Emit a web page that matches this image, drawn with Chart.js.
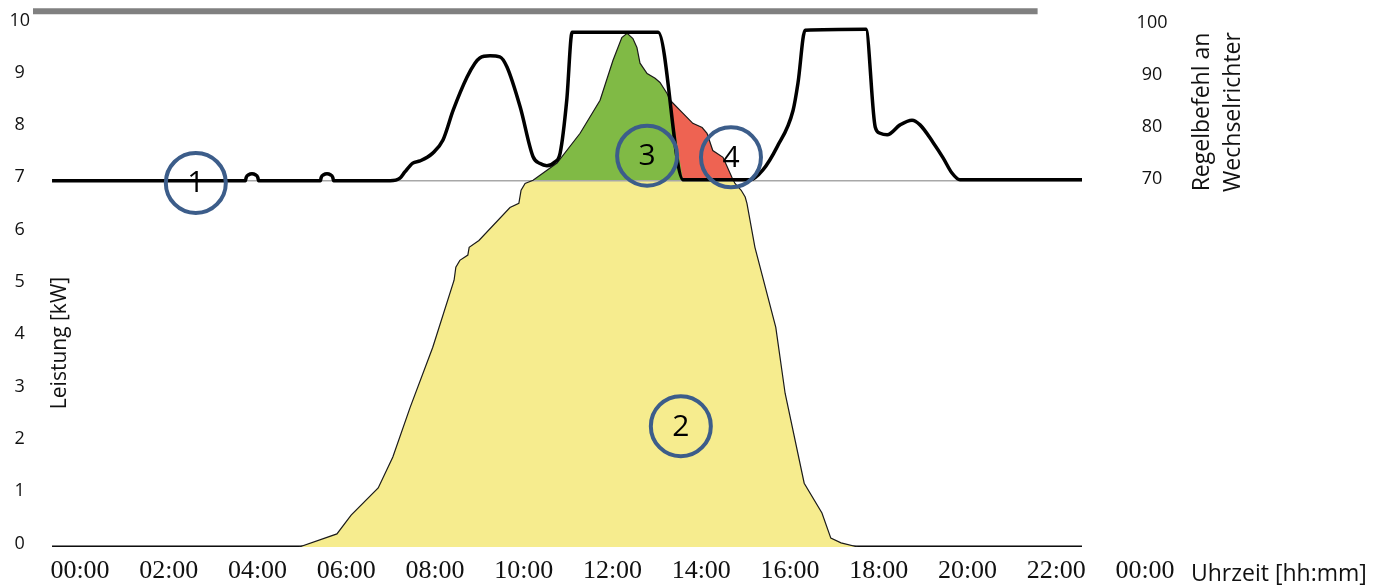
<!DOCTYPE html>
<html><head><meta charset="utf-8">
<script src="https://cdn.jsdelivr.net/npm/chart.js@4/dist/chart.umd.min.js"></script>
<style>html,body{margin:0;padding:0;background:#fff}canvas{display:block}</style>
</head><body>
<canvas id="c" width="1389" height="588"></canvas>
<script>
// ---- data ----
const hourTicks = [0,2,4,6,8,10,12,14,16,18,20,22,24];
const hourLabels = ['00:00','02:00','04:00','06:00','08:00','10:00','12:00','14:00','16:00','18:00','20:00','22:00','00:00'];
const kwTicks = [0,1,2,3,4,5,6,7,8,9,10];
const pctTicks = [70,80,90,100];

// PV power [kW]
const pvHours = [-0.63,4.94,5.79,6.11,6.72,7.05,7.44,7.95,8.43,8.47,8.56,8.74,8.77,8.99,9.69,9.89,9.94,10.03,10.21,10.75,11.27,11.72,12.01,12.21,12.33,12.46,12.55,12.62,12.78,12.96,13.07,13.23,13.30,13.59,13.81,14.02,14.13,14.26,14.49,14.69,14.76,14.90,14.99,15.03,15.21,15.68,15.89,16.32,16.72,16.92,17.15,17.53,22.58];
const pvKW    = [0,0,0.25,0.61,1.13,1.72,2.67,3.82,5.10,5.35,5.48,5.58,5.73,5.86,6.49,6.57,6.82,6.95,7.01,7.34,7.91,8.54,9.30,9.74,9.82,9.72,9.55,9.25,9.05,8.96,8.88,8.67,8.54,8.29,8.10,8.02,7.91,7.58,7.45,7.07,6.95,6.82,6.69,6.57,5.73,4.20,2.94,1.22,0.65,0.17,0.08,0,0];

// control command to inverter [%]
const cmdHours = [-0.63,3.726,3.746,3.801,3.876,3.951,4.006,4.026,5.416,5.436,5.491,5.566,5.641,5.696,5.716,6.99,7.21,7.32,7.50,7.66,7.95,8.18,8.41,8.72,8.90,9.01,9.24,9.46,9.62,9.92,10.21,10.37,10.52,10.70,10.82,10.97,11.09,13.03,13.59,15.10,15.39,15.71,16.07,16.18,16.34,17.71,17.92,18.03,18.19,18.48,18.75,18.93,19.22,19.45,19.65,19.83,22.58];
const cmdPct   = [70,70,70.68,71.17,71.35,71.17,70.68,70,70,70.68,71.17,71.35,71.17,70.68,70,70,70.5,71.7,73.4,73.8,75.3,77.8,83.5,89.8,92.5,93.5,93.9,93.7,91.8,84.1,74.6,73.3,72.9,73.6,75.3,85.5,98.4,98.4,70.2,70.2,72.1,76.5,83.5,88.7,98.8,99.0,80.3,79.1,78.8,80.7,81.6,80.7,77.4,74.4,71.5,70.2,70.2];

const limitKW = 7;                 // 70 % line
const spanHours = [-0.63, 22.58];  // extent of the base lines
const topLineHours = [-1.06, 21.58];
const topLineKW = 10.24;
const greenFromHour = 9.94;
const cutHour = 13.30;             // command starts dropping
const cutEdgeHour = 13.59;         // command reaches 70 %
const redToHour = 14.90;

const markerLabels = ['1','2','3','4'];
const markerHours  = [2.61, 13.54, 12.78, 14.67];
const markerKW     = [6.96, 2.31, 7.48, 7.45];

// ---- build datasets ----
const pv = pvHours.map((h,i)=>({x:h,y:pvKW[i]}));
const cmd = cmdHours.map((h,i)=>({x:h,y:cmdPct[i]}));
const green = pv.filter(p=>p.x>=greenFromHour && p.x<=cutHour).concat([{x:cutEdgeHour,y:limitKW}]);
const red = pv.filter(p=>p.x>=cutHour && p.x<=redToHour);
const limitLine = spanHours.map(h=>({x:h,y:limitKW}));
const baseLine = spanHours.map(h=>({x:h,y:0}));
const topLine = topLineHours.map(h=>({x:h,y:topLineKW}));

const NONE = 'rgba(0,0,0,0)';
const common = {pointRadius:0, pointHoverRadius:0, tension:0};

const annot = {
  id:'annot',
  afterDraw(chart){
    const ctx = chart.ctx, xs = chart.scales.x, ys = chart.scales.y;
    ctx.save();
    for(let i=0;i<markerLabels.length;i++){
      const cx = xs.getPixelForValue(markerHours[i]);
      const cy = ys.getPixelForValue(markerKW[i]);
      ctx.beginPath();
      ctx.arc(cx,cy,30,0,Math.PI*2);
      ctx.lineWidth = 4;
      ctx.strokeStyle = '#3C5D8A';
      ctx.stroke();
      ctx.fillStyle = '#000';
      ctx.font = '30px "Open Sans"';
      ctx.textAlign = 'center';
      ctx.textBaseline = 'middle';
      ctx.fillText(markerLabels[i], cx, cy+1);
    }
    ctx.fillStyle = '#111';
    ctx.textBaseline = 'middle';
    ctx.textAlign = 'left';
    ctx.font = '23px "Open Sans"';
    ctx.fillText('Uhrzeit [hh:mm]', 1191, 574);
    const vtext = (t,x,y,f)=>{ctx.save();ctx.translate(x,y);ctx.rotate(-Math.PI/2);ctx.textAlign='center';ctx.font=f;ctx.fillText(t,0,0);ctx.restore();};
    vtext('Leistung [kW]', 60, 343, '21px "Open Sans"');
    vtext('Regelbefehl an', 1202, 112, '23px "Open Sans"');
    vtext('Wechselrichter', 1233, 112, '23px "Open Sans"');
    ctx.restore();
  }
};

const noPad = s=>{s.paddingTop=0;s.paddingBottom=0;s.paddingLeft=0;s.paddingRight=0;};

new Chart(document.getElementById('c'), {
  type:'line',
  data:{datasets:[
    {...common, label:'Regelbefehl', data:cmd, yAxisID:'y2', borderColor:'#000', borderWidth:3.5, cubicInterpolationMode:'monotone', fill:false},
    {...common, label:'Leistung', data:pv, yAxisID:'y', borderColor:'#1a1a1a', borderWidth:1.2, fill:false},
    {...common, label:'70%', data:limitLine, yAxisID:'y', borderColor:'#A8A8A8', borderWidth:1.5, fill:false},
    {...common, label:'green', data:green, yAxisID:'y', borderColor:NONE, borderWidth:1, fill:{target:{value:limitKW}, above:'#80BA45', below:NONE}},
    {...common, label:'red', data:red, yAxisID:'y', borderColor:NONE, borderWidth:1, fill:{target:{value:limitKW}, above:'#EE6352', below:NONE}},
    {...common, label:'yellow', data:pv, yAxisID:'y', borderColor:NONE, borderWidth:1, backgroundColor:'#F6EC8E', fill:'origin'},
    {...common, label:'base', data:baseLine, yAxisID:'y', borderColor:'#000', borderWidth:3, fill:false},
    {...common, label:'top', data:topLine, yAxisID:'y', borderColor:'#808080', borderWidth:6, fill:false}
  ]},
  options:{
    animation:false, responsive:false, devicePixelRatio:1,
    layout:{padding:{top:3,left:0,right:0,bottom:0}},
    plugins:{legend:{display:false}, tooltip:{enabled:false}},
    scales:{
      x:{type:'linear', min:-1.059, max:23.662,
        afterBuildTicks:s=>{s.ticks = hourTicks.map(v=>({value:v}));},
        afterFit:s=>{s.height=41; noPad(s);},
        ticks:{autoSkip:false, maxRotation:0, padding:9, color:'#111',
          font:{family:'"Liberation Serif"', size:26},
          callback:(v,i)=>hourLabels[i]},
        grid:{display:false, drawTicks:false}, border:{display:false}},
      y:{type:'linear', position:'left', min:0, max:10.4,
        afterBuildTicks:s=>{s.ticks = kwTicks.map(v=>({value:v}));},
        afterFit:s=>{s.width=33; noPad(s);},
        ticks:{padding:3, crossAlign:'center', labelOffset:-3.5, color:'#111', font:{family:'"Open Sans"', size:18}},
        grid:{display:false, drawTicks:false}, border:{display:false}},
      y2:{type:'linear', position:'right', min:0, max:104,
        afterBuildTicks:s=>{s.ticks = pctTicks.map(v=>({value:v}));},
        afterFit:s=>{s.width=259; noPad(s);},
        ticks:{padding:6.6, crossAlign:'center', labelOffset:-1.5, color:'#111', font:{family:'"Open Sans"', size:18}},
        grid:{display:false, drawTicks:false}, border:{display:false}}
    }
  },
  plugins:[annot]
});
</script>
</body></html>
